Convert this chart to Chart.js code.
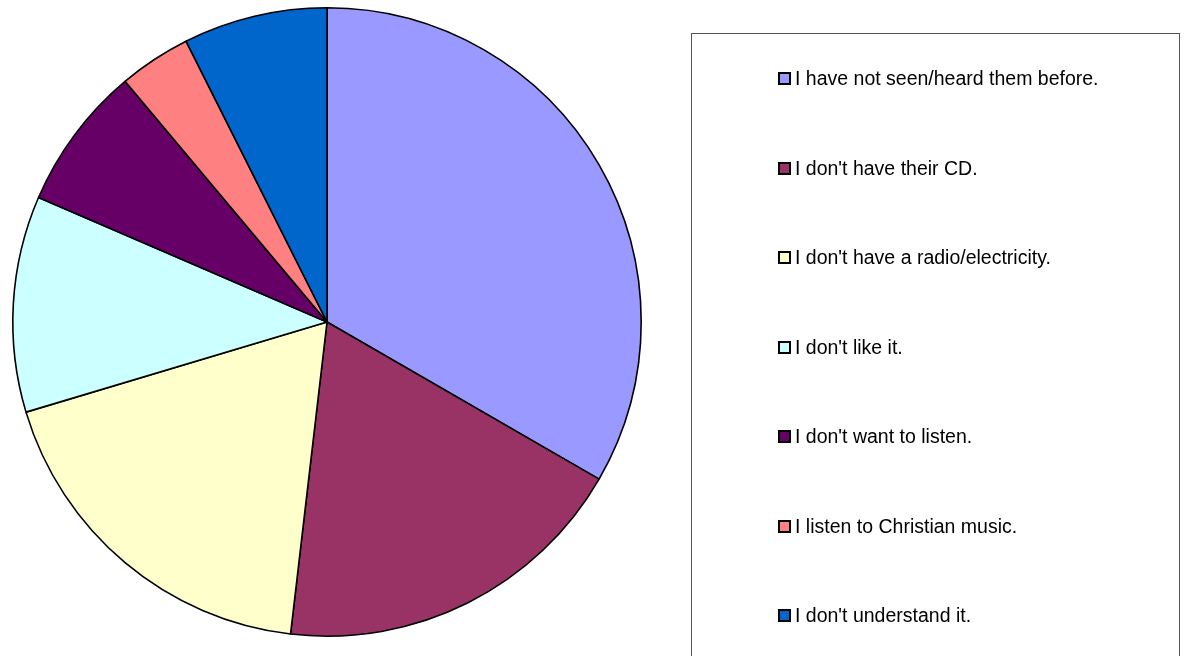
<!DOCTYPE html>
<html>
<head>
<meta charset="utf-8">
<script src="https://cdn.jsdelivr.net/npm/chart.js@4"></script>
<style>
  html, body { margin: 0; padding: 0; background: #fff; }
  #wrap { position: relative; width: 1188px; height: 656px; overflow: hidden; }
  #chart { position: absolute; left: 0; top: 0; }
  #legend {
    position: absolute; left: 691px; top: 33px; width: 489px; height: 700px;
    border: 1px solid #555; box-sizing: border-box;
  }
  .item {
    position: absolute; left: 86px; height: 20px; line-height: 20px;
    font-family: "Liberation Sans", Arial, sans-serif; font-size: 19.5px; color: #000;
    white-space: nowrap; transform: translateY(-50%);
  }
  .swatch {
    display: inline-block; width: 9px; height: 9px; border: 2px solid #000;
    vertical-align: middle; margin-right: 4px; position: relative; top: -1px;
  }
</style>
</head>
<body>
<div id="wrap">
  <canvas id="chart" width="1188" height="656"></canvas>
  <div id="legend"></div>
</div>
<script>
const labels = [
  'I have not seen/heard them before.',
  "I don't have their CD.",
  "I don't have a radio/electricity.",
  "I don't like it.",
  "I don't want to listen.",
  'I listen to Christian music.',
  "I don't understand it."
]
const counts = [9, 5, 5, 3, 2, 1, 2]
const colors = ['#9999FF', '#993366', '#FFFFCC', '#CCFFFF', '#660066', '#FF8080', '#0066CC']

new Chart(document.getElementById('chart'), {
  type: 'pie',
  data: {
    labels,
    datasets: [{
      data: counts,
      backgroundColor: colors,
      borderColor: '#000',
      borderWidth: 1.6,
      borderAlign: 'center'
    }]
  },
  options: {
    responsive: false,
    animation: false,
    layout: { padding: { left: 12, top: 7, right: 546, bottom: 19 } },
    plugins: {
      legend: { display: false },
      tooltip: { enabled: false }
    }
  }
})

// legend box drawn as html, one row every ~89.5px
const legend = document.getElementById('legend')
labels.forEach((text, i) => {
  const row = document.createElement('div')
  row.className = 'item'
  row.style.top = (78 + i * 89.5 - 33 - 1) + 'px'
  const sw = document.createElement('span')
  sw.className = 'swatch'
  sw.style.background = colors[i]
  row.appendChild(sw)
  row.appendChild(document.createTextNode(text))
  legend.appendChild(row)
})
</script>
</body>
</html>
